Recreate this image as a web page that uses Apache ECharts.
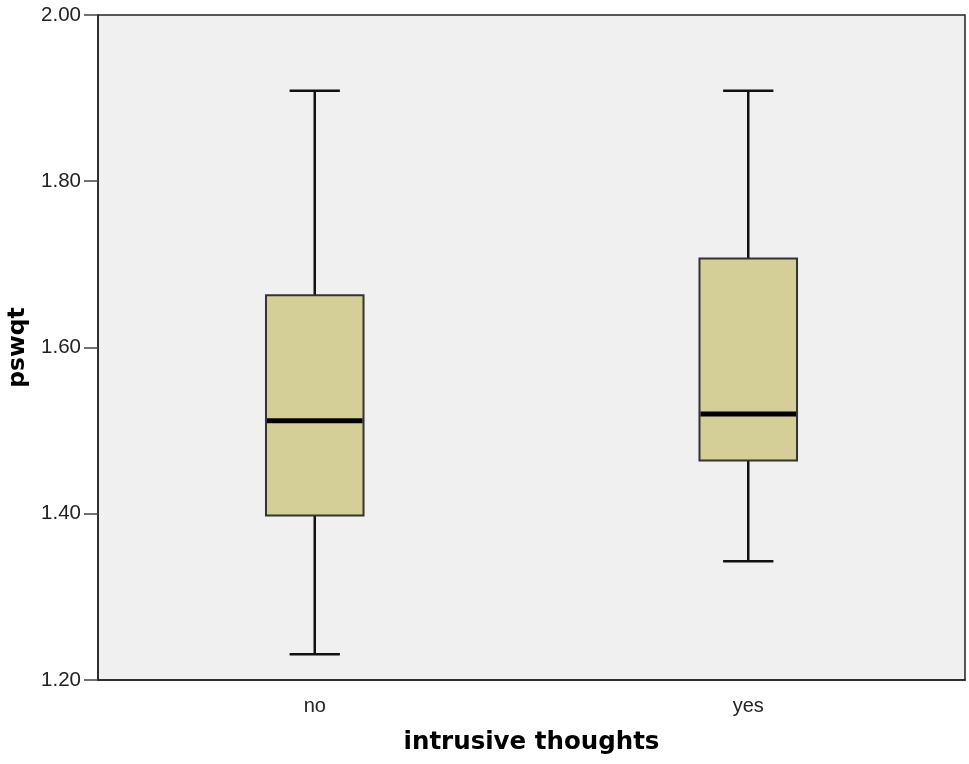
<!DOCTYPE html>
<html>
<head>
<meta charset="utf-8">
<script src="https://cdn.jsdelivr.net/npm/echarts@6/dist/echarts.min.js"></script>
<style>
html, body { margin: 0; padding: 0; background: #fff; }
#main { width: 969px; height: 764px; }
</style>
</head>
<body>
<div id="main"></div>
<script>
// box statistics per group
let categories = ['no', 'yes'];
let whiskerLow = [1.231, 1.343];
let q1 = [1.398, 1.464];
let medians = [1.512, 1.520];
let q3 = [1.663, 1.707];
let whiskerHigh = [1.909, 1.909];

let boxData = [];
for (let i = 0; i < categories.length; i++) {
    boxData.push([i, whiskerLow[i], q1[i], medians[i], q3[i], whiskerHigh[i]]);
}

function renderBox(params, api) {
    let cat = api.value(0);
    let band = api.size([1, 0])[0];
    let boxW = band * 0.225;
    let capW = band * 0.116;
    let low = api.coord([cat, api.value(1)]);
    let pq1 = api.coord([cat, api.value(2)]);
    let med = api.coord([cat, api.value(3)]);
    let pq3 = api.coord([cat, api.value(4)]);
    let high = api.coord([cat, api.value(5)]);
    let x = low[0];
    let ln = function () { return { stroke: '#111', lineWidth: 2.5 }; };
    return {
        type: 'group',
        children: [
            { type: 'line', shape: { x1: x, y1: high[1], x2: x, y2: pq3[1] }, style: ln() },
            { type: 'line', shape: { x1: x, y1: pq1[1], x2: x, y2: low[1] }, style: ln() },
            { type: 'line', shape: { x1: x - capW / 2, y1: high[1], x2: x + capW / 2, y2: high[1] }, style: ln() },
            { type: 'line', shape: { x1: x - capW / 2, y1: low[1], x2: x + capW / 2, y2: low[1] }, style: ln() },
            {
                type: 'rect',
                shape: { x: x - boxW / 2, y: pq3[1], width: boxW, height: pq1[1] - pq3[1] },
                style: { fill: '#d3cf97', stroke: '#333', lineWidth: 2 }
            },
            {
                type: 'line',
                shape: { x1: x - boxW / 2 + 1, y1: med[1], x2: x + boxW / 2 - 1, y2: med[1] },
                style: { stroke: '#000', lineWidth: 5 }
            }
        ]
    };
}

let chart = echarts.init(document.getElementById('main'));
let option = {
    backgroundColor: '#fff',
    animation: false,
    grid: {
        left: 98, right: 4, top: 15, bottom: 84,
        outerBoundsMode: 'none',
        show: true,
        backgroundColor: '#f0f0f0',
        borderColor: '#222',
        borderWidth: 1.5
    },
    xAxis: {
        type: 'category',
        data: categories,
        boundaryGap: true,
        name: 'intrusive thoughts',
        nameLocation: 'middle',
        nameGap: 50,
        nameTextStyle: { fontFamily: 'DejaVu Sans', fontWeight: 'bold', fontSize: 24.5, color: '#000' },
        axisLine: { lineStyle: { color: '#222', width: 1.5 } },
        axisTick: { alignWithLabel: true, length: 14, lineStyle: { color: '#444', width: 1.5 } },
        axisLabel: { fontFamily: 'Liberation Sans', fontSize: 20, color: '#222', margin: 16 },
        splitLine: { show: false }
    },
    yAxis: {
        type: 'value',
        min: 1.2,
        max: 2.0,
        interval: 0.2,
        name: 'pswqt',
        nameLocation: 'middle',
        nameGap: 64,
        nameTextStyle: { fontFamily: 'DejaVu Sans', fontWeight: 'bold', fontSize: 23.5, color: '#000' },
        axisLine: { show: true, lineStyle: { color: '#222', width: 1.5 } },
        axisTick: { show: true, length: 14, lineStyle: { color: '#444', width: 1.5 } },
        axisLabel: {
            fontFamily: 'Liberation Sans', fontSize: 20.5, color: '#222', margin: 17,
            formatter: function (v) { return v.toFixed(2); }
        },
        splitLine: { show: false }
    },
    series: [{
        type: 'custom',
        renderItem: renderBox,
        data: boxData,
        encode: { x: 0, y: [1, 2, 3, 4, 5] }
    }]
};
chart.setOption(option);
</script>
</body>
</html>
